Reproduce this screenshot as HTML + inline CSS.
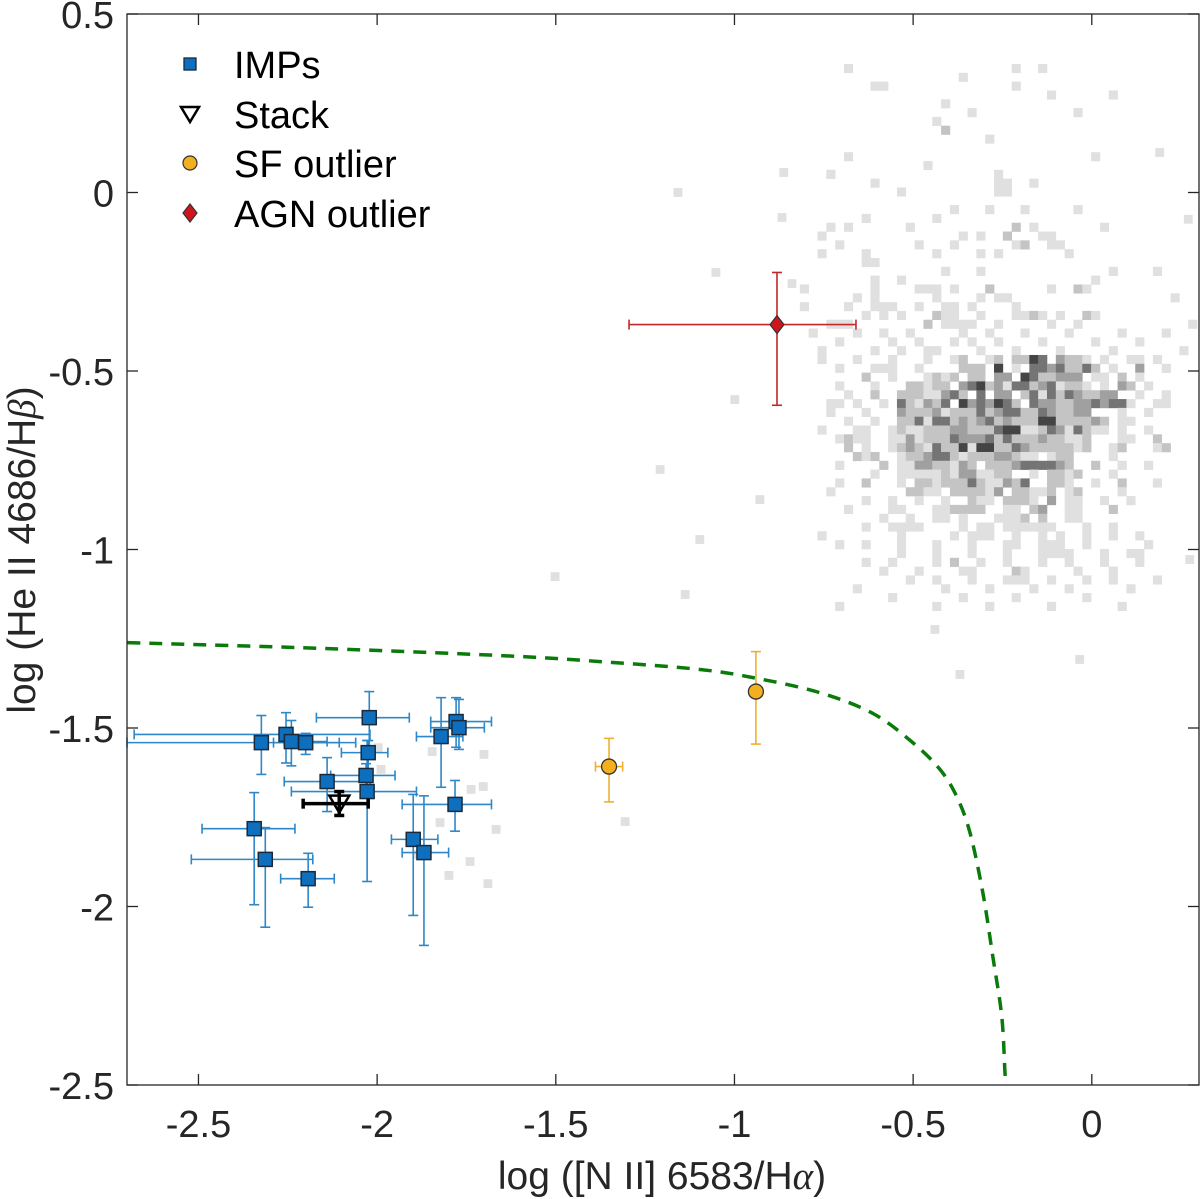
<!DOCTYPE html>
<html><head><meta charset="utf-8"><style>
html,body{margin:0;padding:0;background:#fff;}
svg{display:block;font-family:"Liberation Sans",Arial,sans-serif;}
</style></head><body>
<svg id="chart" width="1200" height="1199" viewBox="0 0 1200 1199" xmlns="http://www.w3.org/2000/svg">
<g id="heat"></g>
<g id="curve"></g>
<g id="marks"></g>
<g id="axes"></g>
<g id="legend"></g>
</svg>
<script>
// ---- data ----
const xTicks = [-2.5,-2,-1.5,-1,-0.5,0];
const yTicks = [0.5,0,-0.5,-1,-1.5,-2,-2.5];
const xTickLabels = ["-2.5","-2","-1.5","-1","-0.5","0"];
const yTickLabels = ["0.5","0","-0.5","-1","-1.5","-2","-2.5"];
const impX = [-2.324,-2.255,-2.24,-2.20,-2.022,-2.025,-2.031,-2.028,-2.14,-2.344,-2.313,-2.193,-1.821,-1.779,-1.771,-1.782,-1.899,-1.869];
const impY = [-1.541,-1.518,-1.538,-1.541,-1.471,-1.569,-1.633,-1.678,-1.650,-1.782,-1.868,-1.922,-1.524,-1.482,-1.499,-1.714,-1.812,-1.849];
const impXlo = [-2.70,-2.68,-2.26,-2.29,-2.17,-2.10,-2.13,-2.24,-2.26,-2.49,-2.52,-2.27,-1.89,-1.85,-1.85,-1.93,-1.96,-1.93];
const impXhi = [-2.106,-2.02,-2.14,-2.06,-1.91,-1.97,-1.95,-1.89,-2.02,-2.23,-2.18,-2.12,-1.76,-1.68,-1.70,-1.68,-1.83,-1.80];
const impYlo = [-1.630,-1.598,-1.606,-1.574,-1.58,-1.617,-1.660,-1.930,-1.734,-1.995,-2.058,-2.002,-1.666,-1.554,-1.560,-1.789,-2.025,-2.109];
const impYhi = [-1.465,-1.457,-1.479,-1.515,-1.398,-1.535,-1.600,-1.535,-1.583,-1.681,-1.779,-1.851,-1.415,-1.415,-1.420,-1.647,-1.686,-1.690];
const stackPt = [-2.106,-1.712,-2.207,-2.025,-1.678,-1.745];
const sfX = [-1.351,-0.940];
const sfY = [-1.608,-1.398];
const sfXlo = [-1.389,-0.957];
const sfXhi = [-1.313,-0.923];
const sfYlo = [-1.707,-1.545];
const sfYhi = [-1.529,-1.286];
const agnPt = [-0.881,-0.370,-1.295,-0.660,-0.596,-0.224];
const curveX = [-2.699,-2.215,-1.656,-1.376,-1.097,-0.937,-0.761,-0.613,-0.501,-0.425,-0.378,-0.341,-0.305,-0.277,-0.252,-0.243,-0.240];
const curveY = [-1.261,-1.275,-1.297,-1.314,-1.336,-1.361,-1.401,-1.459,-1.541,-1.616,-1.692,-1.793,-1.961,-2.140,-2.308,-2.465,-2.5];
// sparse heatmap rows (column indices; 'b' = darker)
const heatSparseRows = [
"5 24 27","18","8 9 24","28 35","16","19 31","15","16b","21","","5 33","14","3 22","8 22 23 26","11 22 23","",
"17 21 25 31","7 15","3 5 12 24b 26 34","2 18 20 23b 27 28","4 13 17 24 25b 28 29","2 7 15 20 22 30","7 8","16 20 35 40",
"8 11 33","0 8 13 14 15 17 21b 28 31b 32","6 8 15 20 22 23 42","0 5 8 9 10 13 16 17 19 24","7 9 11 15b 16 17 20 24 25 26b 27 29 32b 33",
"3 4 5 14b 16 17 18 19 22 28 31 44","1 6 9 12 18 21 25 30 36 41","4 10 13 17 19 22 27 33 38","2 8 11 14 15 20 24 29 35 43"
];
// dense heatmap rows (' '=empty, a..f = light..dark)
const heatDenseRows = [
" a   a   a   a  ab  ab bbed cbba a  aa a ",
"   a   aaa  a    bbb e a ddcdbbdb a  c  a",
"      b  a   abab bb cc edbbccc aa b a   ",
"   a   a   bbabb cdebcaddbcdabba a cb a  ",
"    a  b  bbbaacdb d cc bdadbdcbbcc  a  a",
"  aa a  a dbacbd ecdcedb dccbbccdcdda  aa",
"  a   a   cbbbcabbbdbcddbbdcbbcc   a  a  ",
"    a  a  bbdaddbcbcdbcbbbeebbbbcb aa    ",
" a   aa  abaabbbccbbbdeeaabdcadbaa a  a  ",
"   abaa  aacabbbdcccdbdbbbcbbaab   aa  b ",
"    b a  abcbadbbeaeebbdcbbbbbab  ab   ab",
"     bab  abbcddbabbbccbaa abb    a      ",
"   a    b aaccbbacb bbbcddddcb  b  a  a  ",
"       a  aaaaabaccaabb  a bbab   a      ",
"   a  b   a bbabbbdbaacbd  bba  a  b   a ",
"  a        bbaa bbbbac bbaab ab    a     ",
"      a  a  a  a  baa bbba c aa  a  a    ",
"    a    aa   aabbbb  aa bc  aa   b      ",
"        a  a  aa a   aaab b  aa          ",
"      a  aaaa    a aa aaaaaa   a  a      ",
" a        a     a aaa  a  a a  a  a  a   ",
"   a  a   a   a   a   aa  aaa  a      a  ",
"          a   a   a   a   aaaa   a  aa   ",
"      a  a    a b  a  a   a  a   a   a   ",
"        a   a    aa    ba     a   a      ",
"           a  a   a   aaa  a   a  a    a ",
"     a         a    a    a   a      a    ",
"         a       a     a       a         ",
"   a          a     a      a       a     "
];
const heatShades = {a:"#e0e0e0",b:"#c4c4c4",c:"#a0a0a0",d:"#747474",e:"#444444",f:"#151515"};
const extraCellX = [-1.158,-1.052,-0.839,-0.867,-0.862,-0.999,-1.502,-1.138,-1.306,-1.208,-0.929,-1.097,0.274,-0.439,-0.369,-0.034,-1.997,-1.989,-1.846,-1.701,-1.703,-1.737,-1.824,-1.885,-1.799,-1.740,-1.667,-1.690,0.19,0.27];
const extraCellY = [0.0,-0.224,-0.255,-0.070,0.056,-0.580,-1.076,-1.126,-1.762,-0.776,-0.860,-0.972,-1.028,-1.224,-1.350,-1.308,-1.555,-1.616,-1.566,-1.574,-1.664,-1.672,-1.765,-1.854,-1.913,-1.874,-1.784,-1.936,0.112,-0.075];

// ---- layout ----
const L=127,R=1199,T=14,B=1085;
const xMin=-2.7,xMax=0.3,yMin=-2.5,yMax=0.5;
const sx=v=>L+(v-xMin)/(xMax-xMin)*(R-L);
const sy=v=>B-(v-yMin)/(yMax-yMin)*(B-T);
const NS="http://www.w3.org/2000/svg";
function mk(tag,attrs,parent){const e=document.createElementNS(NS,tag);for(const k in attrs)e.setAttribute(k,attrs[k]);parent.appendChild(e);return e;}
const heat=document.getElementById('heat'),curveG=document.getElementById('curve'),marks=document.getElementById('marks'),axes=document.getElementById('axes'),legend=document.getElementById('legend');

const heatX0=-0.817,heatY0=0.36,cell=0.0247;
const cw=sx(cell)-sx(0);
function cellAt(c,r,fill){
  const x=sx(heatX0+c*cell), y=sy(heatY0-r*cell);
  if(x+cw>R+0.5) return;
  const e=mk('rect',{x:x,y:y,width:cw+0.3,height:cw+0.3,fill:fill},heat);
  
  
}
heatSparseRows.forEach((row,r)=>{
  row.split(' ').filter(s=>s).forEach(tok=>{
    const dark=tok.endsWith('b');
    cellAt(parseInt(tok),r,dark?heatShades.b:heatShades.a);
  });
});
heatDenseRows.forEach((row,i)=>{
  const r=heatSparseRows.length+i;
  for(let c=0;c<row.length;c++){
    const ch=row[c]; if(!heatShades[ch]) continue;
    cellAt(c+1,r,heatShades[ch]);
  }
});
extraCellX.forEach((x,i)=>{
  const e=mk('rect',{x:sx(x)-cw/2,y:sy(extraCellY[i])-cw/2,width:cw,height:cw,fill:"#e0e0e0"},heat);
  
  
});

// curve (smooth)
{
  const P=curveX.map((x,i)=>[sx(x),sy(curveY[i])]);
  let d=`M${P[0][0]},${P[0][1]}`;
  for(let i=0;i<P.length-1;i++){
    const p0=P[Math.max(0,i-1)],p1=P[i],p2=P[i+1],p3=P[Math.min(P.length-1,i+2)];
    const c1=[p1[0]+(p2[0]-p0[0])/6,p1[1]+(p2[1]-p0[1])/6];
    const c2=[p2[0]-(p3[0]-p1[0])/6,p2[1]-(p3[1]-p1[1])/6];
    d+=` C${c1[0]},${c1[1]} ${c2[0]},${c2[1]} ${p2[0]},${p2[1]}`;
  }
  const cp=mk('path',{d:d,fill:"none",stroke:"#0a7a0a","stroke-width":3.5,"stroke-dasharray":"13,9"},curveG);
  
  
}

function errbars(x,y,xl,xh,yl,yh,col,w,cap){
  const g=mk('g',{stroke:col,"stroke-width":w,fill:"none"},marks);
  mk('line',{x1:sx(xl),y1:sy(y),x2:sx(xh),y2:sy(y)},g);
  mk('line',{x1:sx(x),y1:sy(yl),x2:sx(x),y2:sy(yh)},g);
  mk('line',{x1:sx(xl),y1:sy(y)-cap,x2:sx(xl),y2:sy(y)+cap},g);
  mk('line',{x1:sx(xh),y1:sy(y)-cap,x2:sx(xh),y2:sy(y)+cap},g);
  mk('line',{x1:sx(x)-cap,y1:sy(yl),x2:sx(x)+cap,y2:sy(yl)},g);
  mk('line',{x1:sx(x)-cap,y1:sy(yh),x2:sx(x)+cap,y2:sy(yh)},g);
  
  
}
impX.forEach((x,i)=>errbars(x,impY[i],impXlo[i],impXhi[i],impYlo[i],impYhi[i],"#2d87c8",1.6,5));
impX.forEach((x,i)=>{
  const e=mk('rect',{x:sx(x)-7,y:sy(impY[i])-7,width:14,height:14,fill:"#0d6fbd",stroke:"#1a2a3a","stroke-width":1.5},marks);
  
  
});
errbars(stackPt[0],stackPt[1],stackPt[2],stackPt[3],stackPt[4],stackPt[5],"#000",3.5,5);
{const X=sx(stackPt[0]),Y=sy(stackPt[1]);
 const e=mk('polygon',{points:`${X-10},${Y-8} ${X+10},${Y-8} ${X},${Y+9}`,fill:"none",stroke:"#000","stroke-width":2.5},marks);
 
 }
sfX.forEach((x,i)=>{
  errbars(x,sfY[i],sfXlo[i],sfXhi[i],sfYlo[i],sfYhi[i],"#eeb030",1.6,5);
  const e=mk('circle',{cx:sx(x),cy:sy(sfY[i]),r:7.5,fill:"#f2b01e",stroke:"#333","stroke-width":1.3},marks);
  
  
});
errbars(agnPt[0],agnPt[1],agnPt[2],agnPt[3],agnPt[4],agnPt[5],"#c0282a",1.6,5);
{const X=sx(agnPt[0]),Y=sy(agnPt[1]);
 const e=mk('polygon',{points:`${X},${Y-9} ${X+7},${Y} ${X},${Y+9} ${X-7},${Y}`,fill:"#d0141c",stroke:"#333","stroke-width":1.2},marks);
 
 }

// axes
const fr=mk('rect',{x:L,y:T,width:R-L,height:B-T,fill:"none",stroke:"#262626","stroke-width":1.3},axes);


xTicks.forEach((v,i)=>{
  const X=sx(v);
  mk('line',{x1:X,y1:B,x2:X,y2:B-11,stroke:"#262626","stroke-width":1.3},axes);
  mk('line',{x1:X,y1:T,x2:X,y2:T+11,stroke:"#262626","stroke-width":1.3},axes);
  const t=mk('text',{x:X,y:B+52,"text-anchor":"middle","font-size":38,fill:"#262626"},axes);
  t.textContent=xTickLabels[i];
  
  
});
yTicks.forEach((v,i)=>{
  const Y=sy(v);
  mk('line',{x1:L,y1:Y,x2:L+11,y2:Y,stroke:"#262626","stroke-width":1.3},axes);
  mk('line',{x1:R,y1:Y,x2:R-11,y2:Y,stroke:"#262626","stroke-width":1.3},axes);
  const t=mk('text',{x:114,y:Y+14,"text-anchor":"end","font-size":38,fill:"#262626"},axes);
  t.textContent=yTickLabels[i];
  
  
});
const xl=mk('text',{x:662,y:1189,"text-anchor":"middle","font-size":39,fill:"#262626"},axes);
xl.innerHTML='log ([N II] 6583/H<tspan font-family="Liberation Serif" font-style="italic">α</tspan>)';


const yl=mk('text',{x:0,y:0,"text-anchor":"middle","font-size":39,fill:"#262626",transform:"translate(35,550) rotate(-90)"},axes);
yl.innerHTML='log (He II 4686/H<tspan font-family="Liberation Serif" font-style="italic">β</tspan>)';



// legend
const legNames=["IMPs","Stack","SF outlier","AGN outlier"];
const legY=[64,114,163,213];
legNames.forEach((n,i)=>{
  const Y=legY[i],X=190;
  let m;
  if(i===0) m=mk('rect',{x:X-6,y:Y-6,width:12,height:12,fill:"#0d6fbd",stroke:"#1a2a3a","stroke-width":1.3},legend);
  if(i===1) m=mk('polygon',{points:`${X-9},${Y-7} ${X+9},${Y-7} ${X},${Y+8}`,fill:"none",stroke:"#000","stroke-width":2.5},legend);
  if(i===2) m=mk('circle',{cx:X,cy:Y,r:7,fill:"#f2b01e",stroke:"#333","stroke-width":1.2},legend);
  if(i===3) m=mk('polygon',{points:`${X},${Y-9} ${X+7},${Y} ${X},${Y+9} ${X-7},${Y}`,fill:"#d0141c",stroke:"#333","stroke-width":1.2},legend);
  
  
  const t=mk('text',{x:234,y:Y+14,"font-size":38,fill:"#000"},legend);
  t.textContent=n;
  
  
});
</script>
</body></html>
